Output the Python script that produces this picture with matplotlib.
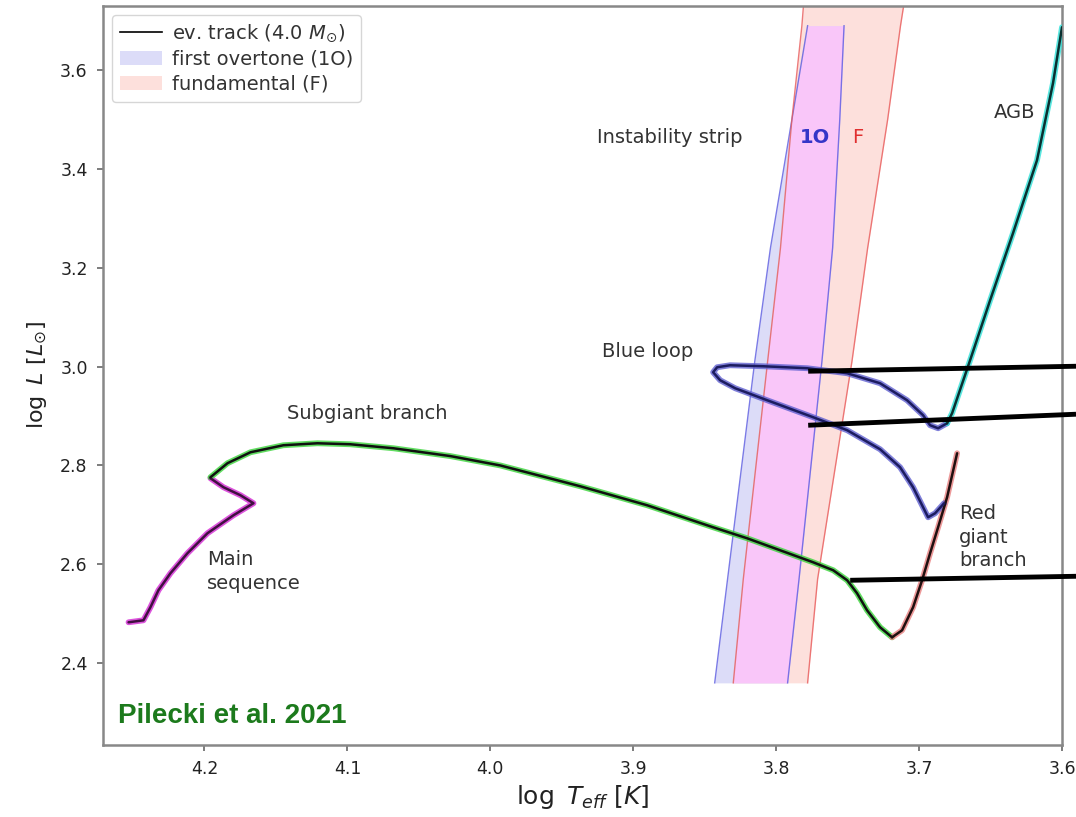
import matplotlib
matplotlib.use("Agg")
import matplotlib.pyplot as plt
from matplotlib.lines import Line2D
from matplotlib.patches import Patch
import numpy as np

# ---------------- data ----------------
# Main sequence (log Teff, log L)
ms_t = [4.2531, 4.2427, 4.2378, 4.2322, 4.2238, 4.2119, 4.1979, 4.1797, 4.1657, 4.1748, 4.1867, 4.1958]
ms_l = [2.4826, 2.4866, 2.5130, 2.5474, 2.5818, 2.6223, 2.6628, 2.6992, 2.7235, 2.7397, 2.7559, 2.7741]
# Subgiant branch
sg_t = [4.1958, 4.1839, 4.1678, 4.1448, 4.1210, 4.0979, 4.0678, 4.0280, 3.9930, 3.9371, 3.8902,
        3.8441, 3.8203, 3.7972, 3.7741, 3.7601, 3.7503, 3.7434, 3.7364, 3.7273, 3.7189]
sg_l = [2.7761, 2.8045, 2.8267, 2.8409, 2.8449, 2.8429, 2.8348, 2.8190, 2.8000, 2.7579, 2.7194,
        2.6749, 2.6526, 2.6283, 2.6040, 2.5879, 2.5676, 2.5413, 2.5069, 2.4725, 2.4522]
# Red giant branch
rgb_t = [3.7189, 3.7119, 3.7042, 3.6979, 3.6923, 3.6867, 3.6804, 3.6734]
rgb_l = [2.4522, 2.4664, 2.5130, 2.5676, 2.6223, 2.6749, 2.7356, 2.8247]
# Blue loop
bl_t = [3.6825, 3.6888, 3.6937, 3.6972, 3.7042, 3.7133, 3.7273, 3.7503, 3.7741, 3.8063, 3.8287,
        3.8392, 3.8441, 3.8413, 3.8322, 3.8091, 3.7783, 3.7503, 3.7273, 3.7084, 3.6972, 3.6923,
        3.6867, 3.6804]
bl_l = [2.7235, 2.7032, 2.6951, 2.7154, 2.7559, 2.7964, 2.8328, 2.8713, 2.8976, 2.9320, 2.9563,
        2.9725, 2.9887, 2.9988, 3.0028, 3.0008, 2.9968, 2.9866, 2.9664, 2.9320, 2.9016, 2.8814,
        2.8753, 2.8854]
# AGB
agb_t = [3.6804, 3.6769, 3.6643, 3.6503, 3.6343, 3.6175, 3.6063, 3.6000]
agb_l = [2.8854, 2.9057, 3.0130, 3.1344, 3.2700, 3.4178, 3.5737, 3.6870]

# Instability strip edges
fo_y = [2.36, 2.57, 3.01, 3.24, 3.50, 3.69]
fo_blue = [3.843, 3.834, 3.815, 3.804, 3.789, 3.778]
fo_red = [3.792, 3.784, 3.768, 3.7605, 3.7555, 3.7525]
f_y = [2.36, 2.57, 3.01, 3.24, 3.50, 3.69, 3.80]
f_blue = [3.830, 3.823, 3.806, 3.797, 3.789, 3.782, 3.779]
f_red = [3.778, 3.771, 3.747, 3.736, 3.722, 3.713, 3.707]

# Pointer lines (overlay)
ptr_t = [[3.7776, 3.5902], [3.7776, 3.5902], [3.7482, 3.5902]]
ptr_l = [[2.9907, 3.0008], [2.8814, 2.9037], [2.5676, 2.5757]]

xticks = [4.2, 4.1, 4.0, 3.9, 3.8, 3.7, 3.6]
yticks = [2.4, 2.6, 2.8, 3.0, 3.2, 3.4, 3.6]

# ---------------- plot ----------------
fig = plt.figure(figsize=(10.76, 8.17), dpi=100)
ax = fig.add_axes([0.0957, 0.088, 0.8913, 0.9047])

c_1o = "#dcdcf8"
c_f = "#fde0dc"
c_both = "#f9c6f9"

ax.fill_betweenx(f_y, f_red, f_blue, color=c_f, lw=0, zorder=1)
ax.fill_betweenx(fo_y, fo_red, fo_blue, color=c_1o, lw=0, zorder=1)
ov_r = np.maximum(np.array(fo_red), np.array(f_red[:len(fo_y)]))
ov_b = np.minimum(np.array(fo_blue), np.array(f_blue[:len(fo_y)]))
ax.fill_betweenx(fo_y, ov_r, ov_b, color=c_both, lw=0, zorder=1.5)
for xs in (fo_blue, fo_red):
    ax.plot(xs, fo_y, color="#5a5ae0", lw=1.0, alpha=0.8, zorder=2)
for xs in (f_blue, f_red):
    ax.plot(xs, f_y, color="#e85a5a", lw=1.0, alpha=0.8, zorder=2)

segs = [(ms_t, ms_l, "#d428d4", "#401040"), (sg_t, sg_l, "#3ad43a", "#101010"),
        (rgb_t, rgb_l, "#e88080", "#201010"), (bl_t, bl_l, "#6060d0", "#1c1c60"),
        (agb_t, agb_l, "#30e0d8", "#0a3030")]
for t, l, c, k in segs:
    ax.plot(t, l, color=c, lw=4.2, alpha=0.8, solid_capstyle="round", solid_joinstyle="round", zorder=3)
    ax.plot(t, l, color=k, lw=1.8, solid_capstyle="round", solid_joinstyle="round", zorder=4)

for t, l in zip(ptr_t, ptr_l):
    ax.plot(t, l, color="black", lw=3.5, solid_capstyle="butt", clip_on=False, zorder=10)

tc = "#333333"
fs = 14
ax.text(3.9252, 3.464, "Instability strip", fontsize=fs, color=tc, va="center", ha="left")
ax.text(3.7727, 3.464, "1O", fontsize=fs, color="#3535c8", va="center", ha="center", fontweight="bold")
ax.text(3.7427, 3.464, "F", fontsize=fs, color="#e03030", va="center", ha="center")
ax.text(3.6329, 3.514, "AGB", fontsize=fs, color=tc, va="center", ha="center")
ax.text(3.9220, 3.030, "Blue loop", fontsize=fs, color=tc, va="center", ha="left")
ax.text(4.1420, 2.905, "Subgiant branch", fontsize=fs, color=tc, va="center", ha="left")
ax.text(4.1980, 2.585, "Main\nsequence", fontsize=fs, color=tc, va="center", ha="left",
        linespacing=1.36)
ax.text(3.6720, 2.655, "Red\ngiant\nbranch", fontsize=fs, color=tc, va="center", ha="left",
        linespacing=1.3)
ax.text(0.0156, 0.039, "Pilecki et al. 2021", transform=ax.transAxes, fontsize=20,
        color="#1c7a1c", fontweight="bold", family="Liberation Sans", va="center", ha="left")

ax.set_xlim(4.271, 3.6)
ax.set_ylim(2.234, 3.73)
ax.set_xticks(xticks)
ax.set_yticks(yticks)
ax.set_xticklabels([f"{v:.1f}" for v in xticks])
ax.set_yticklabels([f"{v:.1f}" for v in yticks])
ax.tick_params(labelsize=12.5, colors="#666666", labelcolor="#222222", length=4, width=1.2, pad=7)
for s in ax.spines.values():
    s.set_color("#888888")
    s.set_linewidth(1.8)

ax.set_xlabel(r"$\log\ T_{eff}\ [K]$", fontsize=18, color="#222222", labelpad=3)
ax.set_ylabel(r"$\log\ L\ [L_{\odot}]$", fontsize=16, color="#222222", labelpad=8)

handles = [Line2D([0], [0], color="black", lw=1.2),
           Patch(facecolor=c_1o, edgecolor="none"),
           Patch(facecolor=c_f, edgecolor="none")]
labels = [r"ev. track (4.0 $M_{\odot}$)", "first overtone (1O)", "fundamental (F)"]
leg = ax.legend(handles, labels, loc="upper left", fontsize=14, frameon=True,
                borderaxespad=0.45, handlelength=2.2, handletextpad=0.5, labelspacing=0.3,
                borderpad=0.4, labelcolor="#333333")
leg.get_frame().set_edgecolor("#cccccc")

fig.savefig("out.png", dpi=100)
